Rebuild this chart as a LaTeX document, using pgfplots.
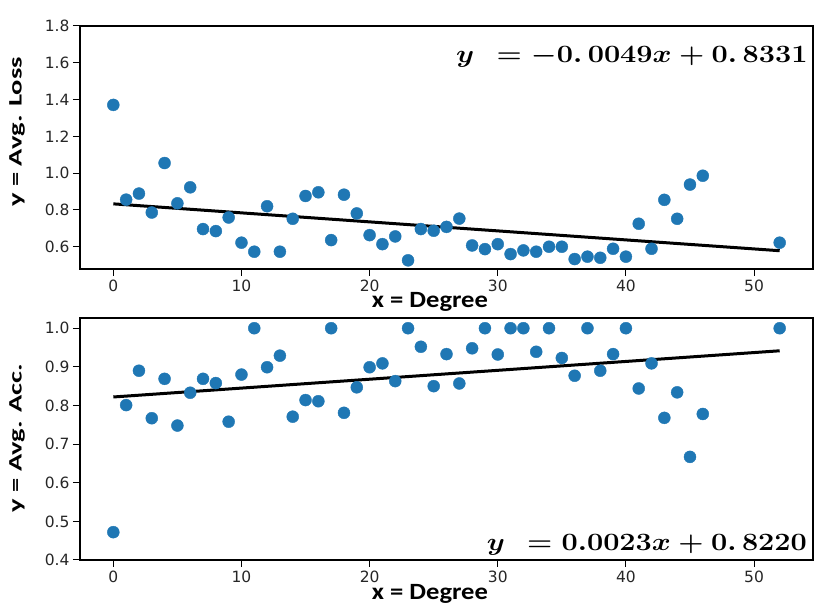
\documentclass[border=0pt]{standalone}
\usepackage{fontspec}
\usepackage{pgfplots}
\usepackage{pgfplotstable}
\pgfplotsset{compat=1.18}
\usepackage{graphicx}
\newfontfamily\carlito{Carlito}
\newfontfamily\dejavu{DejaVu Sans}
\definecolor{tabblue}{HTML}{1F77B4}
\pgfplotstableread{
x y
0 1.371
1 0.856
2 0.889
3 0.786
4 1.055
5 0.836
6 0.923
7 0.696
8 0.685
9 0.759
10 0.622
11 0.573
12 0.820
13 0.573
14 0.752
15 0.876
16 0.896
17 0.636
18 0.883
19 0.781
20 0.663
21 0.614
22 0.656
23 0.526
24 0.696
25 0.687
26 0.708
27 0.753
28 0.607
29 0.587
30 0.614
31 0.560
32 0.580
33 0.573
34 0.600
35 0.600
36 0.533
37 0.546
38 0.540
39 0.589
40 0.546
41 0.725
42 0.589
43 0.855
44 0.752
45 0.938
46 0.986
52 0.622
}\losstable
\pgfplotstableread{
x y
0 0.472
1 0.801
2 0.890
3 0.767
4 0.869
5 0.748
6 0.833
7 0.869
8 0.858
9 0.758
10 0.880
11 1.000
12 0.899
13 0.929
14 0.771
15 0.814
16 0.811
17 1.000
18 0.781
19 0.847
20 0.899
21 0.909
22 0.863
23 1.000
24 0.952
25 0.850
26 0.933
27 0.857
28 0.948
29 1.000
30 0.932
31 1.000
32 1.000
33 0.939
34 1.000
35 0.923
36 0.877
37 1.000
38 0.890
39 0.933
40 1.000
41 0.844
42 0.909
43 0.768
44 0.834
45 0.667
46 0.778
52 1.000
}\acctable
\pgfplotsset{
  myax/.style={
    scale only axis, width=733pt, anchor=south west,
    xmin=-2.6, xmax=54.6, xtick={0,10,20,30,40,50},
    axis line style={line width=1.1pt, black},
    tick align=outside, tick pos=left,
    major tick length=7pt,
    tick style={line width=1pt, black},
    tick label style={font=\dejavu\fontsize{15.5}{16}\selectfont, text=black!85},
    /pgf/number format/assume math mode=true,
    yticklabel style={/pgf/number format/fixed, /pgf/number format/fixed zerofill, /pgf/number format/precision=1},
    xlabel style={font=\carlito\bfseries\fontsize{23.3}{24}\selectfont, anchor=base},
    ylabel style={font=\carlito\bfseries\fontsize{19}{19}\selectfont, anchor=base},
    clip=false,
  }
}
\begin{document}
\begin{tikzpicture}
\path[use as bounding box] (0pt,0pt) rectangle (830pt,609pt);
\begin{axis}[myax, at={(80pt,340pt)}, height=243pt,
  ymin=0.479, ymax=1.8, ytick={0.6,0.8,1.0,1.2,1.4,1.6,1.8},
  xlabel={\scalebox{1.14}[1]{x = Degree}},
  xlabel style={at={(axis description cs:0.4775,-0.1605)}},
  ylabel={\scalebox{1.5}[1]{y = Avg. Loss}},
  ylabel style={at={(axis description cs:-0.0795,0.564)}},
]
\addplot[only marks, mark=*, mark size=6pt, color=tabblue, mark options={draw=tabblue, fill=tabblue}] table[x=x,y=y] {\losstable};
\addplot[black, line width=3pt] coordinates {(0,0.8331) (52,0.5783)};
\node[anchor=base east, inner sep=0pt, font=\fontsize{37}{37}\selectfont\boldmath] at (axis description cs:0.993,0.848) {\scalebox{1.16}[1]{$y\ = -0.\,0049x + 0.\,8331$}};
\end{axis}
\begin{axis}[myax, at={(80pt,49pt)}, height=242pt,
  ymin=0.4, ymax=1.0265, ytick={0.4,0.5,0.6,0.7,0.8,0.9,1.0},
  xlabel={\scalebox{1.14}[1]{x = Degree}},
  xlabel style={at={(axis description cs:0.4775,-0.165)}},
  ylabel={\scalebox{1.5}[1]{y = Avg. Acc.}},
  ylabel style={at={(axis description cs:-0.0795,0.504)}},
]
\addplot[only marks, mark=*, mark size=6pt, color=tabblue, mark options={draw=tabblue, fill=tabblue}] table[x=x,y=y] {\acctable};
\addplot[black, line width=3pt] coordinates {(0,0.8220) (52,0.9416)};
\node[anchor=base east, inner sep=0pt, font=\fontsize{37}{37}\selectfont\boldmath] at (axis description cs:0.992,0.041) {\scalebox{1.16}[1]{$y\ = 0.0023x + 0.\,8220$}};
\end{axis}
\end{tikzpicture}
\end{document}
